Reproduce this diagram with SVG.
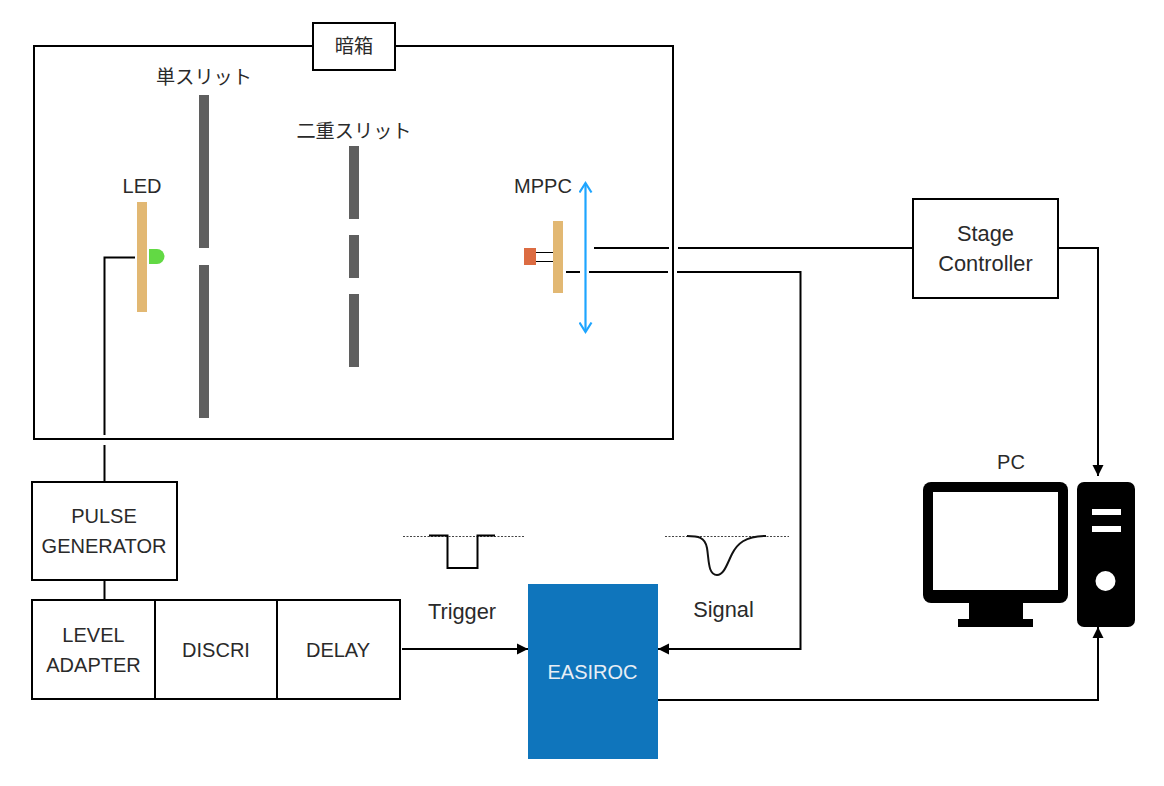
<svg xmlns="http://www.w3.org/2000/svg" width="1164" height="786" viewBox="0 0 1164 786">
<style>
.box{fill:#fff;stroke:#000;stroke-width:2}
.wire{fill:none;stroke:#000;stroke-width:2}
.t{font-family:"Liberation Sans","Noto Sans CJK JP",sans-serif;font-size:20px;fill:#2a2a2a;text-anchor:middle}
.j{font-size:19.200px}
.w{font-size:21.800px}
.slit{fill:#5f5f5f}
.tan{fill:#e2b873}
.dot{fill:none;stroke:#444;stroke-width:1;stroke-dasharray:2 1.500}
</style>
<defs>
<marker id="ah" markerUnits="userSpaceOnUse" markerWidth="12" markerHeight="12" refX="11" refY="6" orient="auto"><path d="M0 .5L11 6L0 11.500Z" fill="#000"/></marker>
<marker id="blue" markerUnits="userSpaceOnUse" markerWidth="14" markerHeight="14" refX="11" refY="7" orient="auto-start-reverse"><path d="M1.500 1L11 7L1.500 13" fill="none" stroke="#1ea5ff" stroke-width="2.200"/></marker>
</defs>
<g id="darkbox"><rect class="box" x="34" y="46" width="639" height="393"/></g>
<g id="darkbox-label"><rect class="box" x="313" y="23" width="82" height="47"/><text class="t j" x="354" y="53">暗箱</text></g>
<g id="connectors">
<path class="wire" d="M135 257.500H104.500V435"/>
<path class="wire" d="M104.500 445V482"/>
<path class="wire" d="M104.500 580V600"/>
<path class="wire" d="M594 248H669"/>
<path class="wire" d="M678 248H913"/>
<path class="wire" d="M566 272H580"/>
<path class="wire" d="M589 272H668"/>
<path class="wire" marker-end="url(#ah)" d="M677 272H800.500V649H658"/>
<path class="wire" marker-end="url(#ah)" d="M1058 248H1098V476"/>
<path class="wire" marker-end="url(#ah)" d="M402 649H528"/>
<path class="wire" marker-end="url(#ah)" d="M658 700H1098V627"/>
<path fill="none" stroke="#000" stroke-width="1" d="M536 252.500H553M536 261.500H553"/>
</g>
<g id="led"><rect class="tan" x="137" y="202" width="10" height="110"/><path d="M149 249H157A7.500 7.500 0 0 1 157 264H149Z" fill="#62d944"/><text class="t" x="142" y="193">LED</text></g>
<g id="single-slit"><rect class="slit" x="199" y="95" width="10" height="153"/><rect class="slit" x="199" y="265" width="10" height="153"/><text class="t j" x="204" y="84">単スリット</text></g>
<g id="double-slit"><rect class="slit" x="349" y="146" width="10" height="73"/><rect class="slit" x="349" y="235" width="10" height="43"/><rect class="slit" x="349" y="294" width="10" height="73"/><text class="t j" x="354" y="138">二重スリット</text></g>
<g id="mppc"><rect class="tan" x="553" y="221" width="10" height="72"/><rect x="524" y="248" width="12" height="17" fill="#dc6c42"/><path d="M585.500 183V332" fill="none" stroke="#1ea5ff" stroke-width="2.200" marker-start="url(#blue)" marker-end="url(#blue)"/><text class="t" x="543" y="193">MPPC</text></g>
<g id="stage-controller"><rect class="box" x="913" y="199" width="145" height="99"/><text class="t w" x="985.500" y="241">Stage</text><text class="t w" x="985.500" y="271">Controller</text></g>
<g id="pulse-generator"><rect class="box" x="32" y="482" width="145" height="98"/><text class="t" x="104" y="523">PULSE</text><text class="t" x="104" y="553">GENERATOR</text></g>
<g id="level-adapter"><rect class="box" x="32" y="600" width="123" height="99"/><text class="t" x="93.500" y="642">LEVEL</text><text class="t" x="93.500" y="672">ADAPTER</text></g>
<g id="discri"><rect class="box" x="155" y="600" width="122" height="99"/><text class="t" x="216" y="657">DISCRI</text></g>
<g id="delay"><rect class="box" x="277" y="600" width="123" height="99"/><text class="t" x="338" y="657">DELAY</text></g>
<g id="easiroc"><rect x="528" y="584" width="130" height="175" fill="#0f75bc"/><text class="t" x="592.500" y="679" style="fill:#e8eef5">EASIROC</text></g>
<g id="trigger"><path class="dot" d="M403 536.500H525"/><path class="wire" d="M429 535.500H447.500V568H477.500V535.500H495"/><text class="t w" x="462" y="619">Trigger</text></g>
<g id="signal"><path class="dot" d="M665 536.500H789"/><path fill="none" stroke="#111" stroke-width="2" d="M687 536C698 536 705 537 707 548C709 560 708 575 717 575C724 575 727 564 732 554C737 544 745 536 766 536"/><text class="t w" x="723.500" y="617">Signal</text></g>
<g id="pc"><text class="t" x="1011" y="469">PC</text>
<rect x="923" y="482" width="145" height="121" rx="8" fill="#000"/><rect x="933" y="492" width="125" height="98" fill="#fff"/><rect x="969" y="602" width="54" height="18" fill="#000"/><rect x="958" y="619" width="75" height="8" fill="#000"/>
<rect x="1077" y="482" width="58" height="145" rx="7" fill="#000"/><rect x="1092" y="509" width="29" height="6" fill="#fff"/><rect x="1092" y="526" width="29" height="6" fill="#fff"/><circle cx="1105.500" cy="581" r="10" fill="#fff"/></g>
</svg>
